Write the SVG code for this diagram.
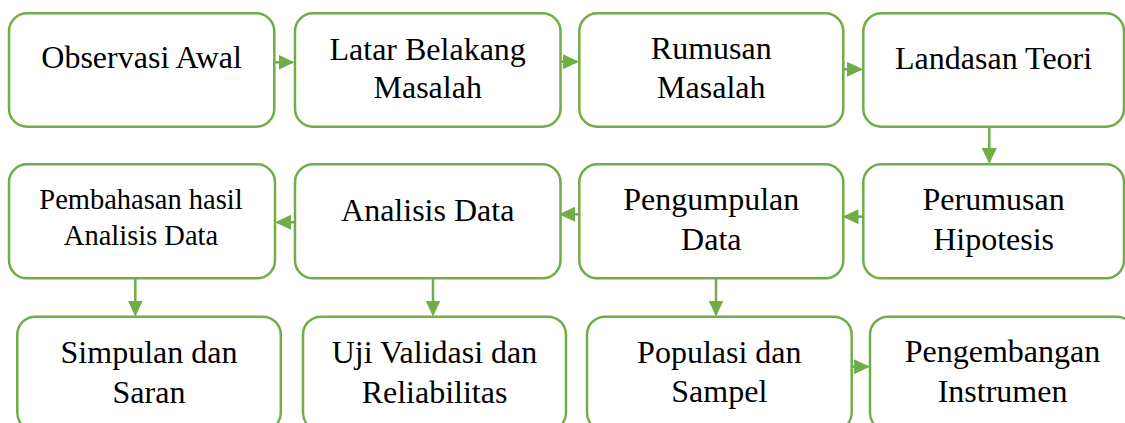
<svg xmlns="http://www.w3.org/2000/svg" width="1125" height="423" viewBox="0 0 1125 423">
<style>
.box{fill:#FFFFFF;stroke:#70AD47;stroke-width:2.5}
.lbl{font-family:"Liberation Serif","Times New Roman",serif;font-size:32px;fill:#000000;text-anchor:middle}
.sm{font-size:28.5px}
.con{stroke:#70AD47;stroke-width:2.5;fill:none}
</style>
<defs>
<marker id="ah" viewBox="0 0 16 15" refX="14" refY="7.5" markerWidth="16" markerHeight="15" markerUnits="userSpaceOnUse" orient="auto">
<path d="M0,0 L16,7.5 L0,15 Z" fill="#70AD47"/>
</marker>
</defs>
<rect width="1125" height="423" fill="#FFFFFF"/>
<g id="connectors">
<line class="con" x1="274" y1="62.3" x2="292.5" y2="62.3" marker-end="url(#ah)"/>
<line class="con" x1="560.5" y1="61.7" x2="577" y2="61.7" marker-end="url(#ah)"/>
<line class="con" x1="843.3" y1="69.3" x2="861" y2="69.3" marker-end="url(#ah)"/>
<line class="con" x1="989.3" y1="126.7" x2="989.3" y2="162" marker-end="url(#ah)"/>
<line class="con" x1="863.3" y1="216.7" x2="844.5" y2="216.7" marker-end="url(#ah)"/>
<line class="con" x1="579.3" y1="214.3" x2="561" y2="214.3" marker-end="url(#ah)"/>
<line class="con" x1="295" y1="222.3" x2="277" y2="222.3" marker-end="url(#ah)"/>
<line class="con" x1="135.3" y1="278.3" x2="135.3" y2="314.5" marker-end="url(#ah)"/>
<line class="con" x1="433" y1="278.3" x2="433" y2="314.5" marker-end="url(#ah)"/>
<line class="con" x1="716" y1="278.3" x2="716" y2="314.5" marker-end="url(#ah)"/>
<line class="con" x1="851.7" y1="366.7" x2="868" y2="366.7" marker-end="url(#ah)"/>
</g>
<g id="observasi-awal">
<rect class="box" x="9" y="13.3" width="265.3" height="113.4" rx="18"/>
<text class="lbl" x="141.6" y="68.3">Observasi Awal</text>
</g>
<g id="latar-belakang">
<rect class="box" x="295" y="13.3" width="265.5" height="113.4" rx="18"/>
<text class="lbl" x="427.7" y="59.5">Latar Belakang</text>
<text class="lbl" x="427.7" y="97.8">Masalah</text>
</g>
<g id="rumusan-masalah">
<rect class="box" x="579.3" y="13.3" width="264" height="113.4" rx="18"/>
<text class="lbl" x="711.3" y="58.5">Rumusan</text>
<text class="lbl" x="711.3" y="98">Masalah</text>
</g>
<g id="landasan-teori">
<rect class="box" x="863.3" y="13.3" width="260.7" height="113.4" rx="18"/>
<text class="lbl" x="993.6" y="69">Landasan Teori</text>
</g>
<g id="pembahasan">
<rect class="box" x="9" y="164.3" width="266" height="114" rx="18"/>
<text class="lbl sm" x="141" y="209.3">Pembahasan hasil</text>
<text class="lbl sm" x="141" y="245">Analisis Data</text>
</g>
<g id="analisis-data">
<rect class="box" x="295" y="164.3" width="265.5" height="114" rx="18"/>
<text class="lbl" x="427.7" y="221">Analisis Data</text>
</g>
<g id="pengumpulan-data">
<rect class="box" x="579.3" y="164.3" width="264" height="114" rx="18"/>
<text class="lbl" x="711.3" y="210">Pengumpulan</text>
<text class="lbl" x="711.3" y="250">Data</text>
</g>
<g id="perumusan-hipotesis">
<rect class="box" x="863.3" y="164.3" width="260.7" height="114" rx="18"/>
<text class="lbl" x="993.6" y="210">Perumusan</text>
<text class="lbl" x="993.6" y="250">Hipotesis</text>
</g>
<g id="simpulan-saran">
<rect class="box" x="17.3" y="316.7" width="263.5" height="114" rx="18"/>
<text class="lbl" x="149" y="363.3">Simpulan dan</text>
<text class="lbl" x="149" y="402.7">Saran</text>
</g>
<g id="uji-validasi">
<rect class="box" x="303" y="316.7" width="263" height="114" rx="18"/>
<text class="lbl" x="434.5" y="363.3">Uji Validasi dan</text>
<text class="lbl" x="434.5" y="402.7">Reliabilitas</text>
</g>
<g id="populasi-sampel">
<rect class="box" x="587" y="316.7" width="264.7" height="114" rx="18"/>
<text class="lbl" x="719.3" y="362.7">Populasi dan</text>
<text class="lbl" x="719.3" y="401.7">Sampel</text>
</g>
<g id="pengembangan-instrumen">
<rect class="box" x="870" y="316.7" width="265" height="114" rx="18"/>
<text class="lbl" x="1002.5" y="361.7">Pengembangan</text>
<text class="lbl" x="1002.5" y="401.7">Instrumen</text>
</g>
</svg>
